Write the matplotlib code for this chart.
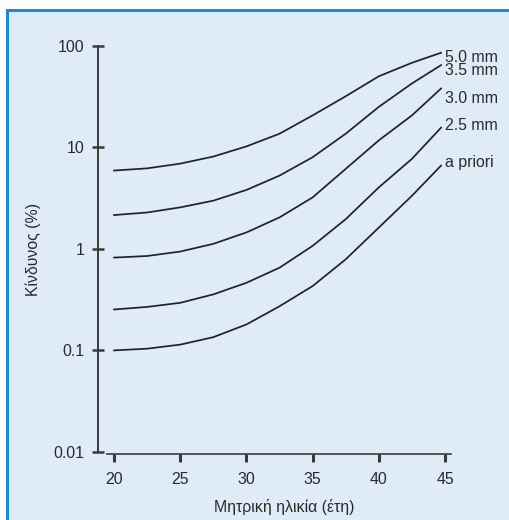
import matplotlib
matplotlib.use("Agg")
import matplotlib.pyplot as plt
from matplotlib.patches import Rectangle

# ---- data ----
ages = [20, 22.5, 25, 27.5, 30, 32.5, 35, 37.5, 40, 42.5, 44.7]
risk_5_0 = [5.9, 6.2, 6.9, 8.1, 10.2, 13.6, 20.6, 31.8, 50.0, 67.9, 85.2]
risk_3_5 = [2.15, 2.28, 2.56, 2.98, 3.8, 5.26, 7.98, 13.6, 25.0, 42.5, 64.4]
risk_3_0 = [0.82, 0.85, 0.94, 1.12, 1.45, 2.04, 3.21, 6.13, 11.7, 20.6, 37.9]
risk_2_5 = [0.253, 0.268, 0.294, 0.356, 0.463, 0.652, 1.07, 1.96, 4.03, 7.69, 15.6]
risk_apriori = [0.1, 0.104, 0.114, 0.135, 0.18, 0.272, 0.43, 0.789, 1.62, 3.33, 6.6]
series = [risk_5_0, risk_3_5, risk_3_0, risk_2_5, risk_apriori]
series_labels = ["5.0 mm", "3.5 mm", "3.0 mm", "2.5 mm", "a priori"]
x_ticks = [20, 25, 30, 35, 40, 45]
y_ticks = [0.01, 0.1, 1, 10, 100]
y_ticklabels = ["0.01", "0.1", "1", "10", "100"]
xlabel = "Μητρική ηλικία (έτη)"
ylabel = "Κίνδυνος (%)"

plt.rcParams['font.family'] = ['Liberation Sans', 'DejaVu Sans']

W, H = 509, 520
fig = plt.figure(figsize=(W / 100, H / 100), dpi=100)
fig.patch.set_facecolor('white')

# panel background with blue border (top & left visible)
bg = Rectangle((7 / W, -0.1), 1.2, 1.1 - 10 / H, transform=fig.transFigure,
               facecolor='#dfebf6', edgecolor='#1c8ad6', linewidth=2.2, zorder=-10)
fig.patches.append(bg)

left, right = 98 / W, 451 / W
bottom, top = 1 - 454 / H, 1 - 45.7 / H
ax = fig.add_axes([left, bottom, right - left, top - bottom])
ax.set_facecolor('none')
ax.set_yscale('log')
ax.set_xlim(18.79, 45.45)
ax.set_ylim(0.00955, 100)

line_col = '#222222'
for vals in series:
    ax.plot(ages, vals, color=line_col, linewidth=1.25, solid_joinstyle='round')

# curve-end labels
fs = 11.4
label_offsets = [(2.8, -3.2), (2.8, -4.0), (2.8, -7.0), (2.8, 1.5), (2.8, 2.2)]
for vals, lab, off in zip(series, series_labels, label_offsets):
    ax.annotate(lab, xy=(ages[-1], vals[-1]), xytext=off, textcoords='offset points',
                ha='left', va='center', fontsize=fs, color='#2a2a2a',
                annotation_clip=False)

axis_col = '#3a3a3a'
for s in ['top', 'right']:
    ax.spines[s].set_visible(False)
ax.spines['left'].set_bounds(0.01, 100)
ax.spines['bottom'].set_bounds(19.47, 45.45)
ax.spines['left'].set_color(axis_col)
ax.spines['bottom'].set_color(axis_col)
ax.spines['left'].set_linewidth(1.4)
ax.spines['bottom'].set_linewidth(1.2)

ax.set_xticks(x_ticks)
ax.set_xticklabels([str(t) for t in x_ticks])
ax.set_yticks(y_ticks)
ax.set_yticklabels(y_ticklabels)
ax.yaxis.set_minor_locator(matplotlib.ticker.NullLocator())
ax.tick_params(axis='x', direction='out', length=6, width=2.2, color=axis_col,
               labelsize=fs, labelcolor='#2a2a2a', pad=7)
ax.tick_params(axis='y', direction='inout', length=9, width=1.8, color=axis_col,
               labelsize=fs, labelcolor='#2a2a2a', pad=5)

ax.set_xlabel(xlabel, fontsize=fs, color='#2a2a2a')
ax.xaxis.set_label_coords((284 - 98) / (451 - 98), -(507 - 454) / (454 - 45.7))
ax.xaxis.label.set_va('center')
ax.set_ylabel(ylabel, fontsize=fs, color='#2a2a2a')
ax.yaxis.set_label_coords(-(98 - 33) / (451 - 98), 0.5)
ax.yaxis.label.set_va('center')

fig.savefig('out.png', dpi=100, facecolor=fig.get_facecolor())
